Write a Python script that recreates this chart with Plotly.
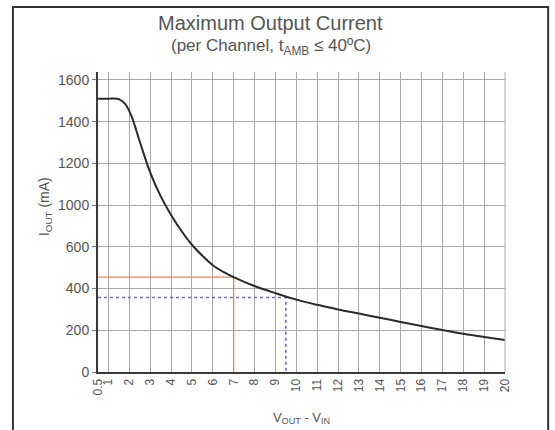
import plotly.graph_objects as go

# Curve values (y in the chart's evenly spaced gridline units; the reference's
# y tick labels skip "800", so the labels are applied as tick text)
v_diff = [0.5, 1.0, 1.5, 1.8, 2.1, 2.5, 3.0, 3.5, 4.0, 4.5, 5.0, 5.5, 6.0, 6.5, 7.0, 8.0,
          9.0, 10.0, 11.0, 12.0, 13.0, 14.0, 15.0, 16.0, 17.0, 18.0, 19.0, 20.0]
i_out = [1310, 1310, 1308, 1285, 1228, 1105, 957, 843, 753, 676, 610, 557, 512, 480, 455, 412,
         378, 347, 322, 300, 280, 260, 240, 220, 201, 183, 168, 153]

# Marker lines (orange at 7 V, blue at 9.5 V)
orange_x = [0.5, 7.0, 7.0]
orange_y = [455, 455, 0]
blue_x = [0.5, 9.5, 9.5]
blue_y = [357, 357, 0]

x_tickvals = [0.5] + list(range(1, 21))
x_ticktext = ["0.5"] + [str(i) for i in range(1, 21)]
y_tickvals = [0, 200, 400, 600, 800, 1000, 1200, 1400]
y_ticktext = ["0", "200", "400", "600", "1000", "1200", "1400", "1600"]

fig = go.Figure()
fig.add_trace(go.Scatter(x=orange_x, y=orange_y, mode="lines",
                         line=dict(color="#ef8548", width=1.3), hoverinfo="skip"))
fig.add_trace(go.Scatter(x=blue_x, y=blue_y, mode="lines",
                         line=dict(color="#6b6bc8", width=1.6, dash="dot"), hoverinfo="skip"))
fig.add_trace(go.Scatter(x=v_diff, y=i_out, mode="lines", line_shape="spline",
                         line=dict(color="#2a2a2a", width=2)))

font_family = "Liberation Sans, Arial, sans-serif"
fig.update_layout(
    width=555, height=430,
    margin=dict(l=98, r=50, t=72, b=58, autoexpand=False),
    paper_bgcolor="white", plot_bgcolor="white",
    showlegend=False,
    font=dict(family=font_family, color="#444", size=13),
    xaxis=dict(range=[0.5, 20], tickvals=x_tickvals, ticktext=x_ticktext,
               tickangle=-90, showgrid=True, gridcolor="#a8a8a8", gridwidth=1,
               showline=True, linecolor="#3a3a3a", linewidth=2, zeroline=False,
               ticks="", tickfont=dict(size=12, color="#555"), automargin=False,
               title=dict(text="V<sub>OUT</sub> - V<sub>IN</sub>", standoff=18,
                          font=dict(size=13, color="#555"))),
    yaxis=dict(range=[0, 1438], tickvals=y_tickvals, ticktext=y_ticktext,
               showgrid=True, gridcolor="#a8a8a8", gridwidth=1,
               showline=True, linecolor="#3a3a3a", linewidth=2, zeroline=False,
               ticks="outside", ticklen=4, tickcolor="#777", automargin=False,
               tickfont=dict(size=14, color="#555")),
    annotations=[
        dict(text="Maximum Output Current", xref="paper", yref="paper",
             x=0.425, y=1.163, showarrow=False, xanchor="center", yanchor="middle",
             font=dict(size=20, color="#555", family=font_family)),
        dict(text="(per Channel, t<sub>AMB</sub> ≤ 40ºC)", xref="paper", yref="paper",
             x=0.425, y=1.085, showarrow=False, xanchor="center", yanchor="middle",
             font=dict(size=17, color="#555", family=font_family)),
        dict(text="I<sub>OUT</sub> (mA)", xref="paper", yref="paper",
             x=-0.130, y=0.55, showarrow=False, xanchor="center", yanchor="middle",
             textangle=-90, font=dict(size=14, color="#555", family=font_family)),
    ],
    shapes=[
        dict(type="rect", xref="paper", yref="paper", x0=-0.209, x1=1.106,
             y0=-0.25, y1=1.217, line=dict(color="#333", width=2), layer="below"),
        dict(type="line", xref="paper", yref="paper", x0=1, x1=1, y0=0, y1=1,
             line=dict(color="#a8a8a8", width=1)),
    ],
)

fig.write_html("out.html", config={"displayModeBar": False},
               post_script="document.body.style.margin='0';document.body.style.overflow='hidden';")
